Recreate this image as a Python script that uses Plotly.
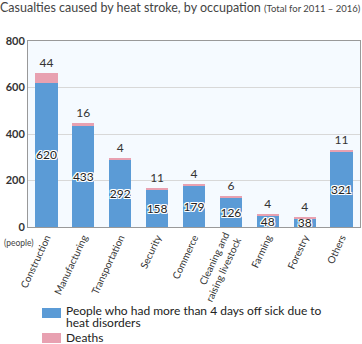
import plotly.graph_objects as go

categories = ["Construction", "Manufacturing", "Transportation", "Security", "Commerce",
              "Cleaning and<br>raising livestock", "Farming", "Forestry", "Others"]
sick_leave = [620, 433, 292, 158, 179, 126, 48, 38, 321]
deaths = [44, 16, 4, 11, 4, 6, 4, 4, 11]
y_ticks = [0, 200, 400, 600, 800]
legend_lines_sick = ["People who had more than 4 days off sick due to", "heat disorders"]
legend_deaths = "Deaths"

FONT = "Lato, 'Open Sans', sans-serif"
BLUE = "#5b9bd6"
PINK = "#e8a1b1"
outline = "-1px -1px 0 #fff, 1px -1px 0 #fff, -1px 1px 0 #fff, 1px 1px 0 #fff, 0 1px 0 #fff, 0 -1px 0 #fff, 1px 0 0 #fff, -1px 0 0 #fff"

fig = go.Figure()
fig.add_trace(go.Bar(
    x=categories, y=sick_leave,
    name=" ".join(legend_lines_sick),
    marker=dict(color=BLUE, line=dict(width=0)),
    text=[str(v) for v in sick_leave],
    textposition="inside", insidetextanchor="middle", textangle=0,
    constraintext="none",
    insidetextfont=dict(family=FONT, size=12, color="#222", shadow=outline),
    hoverinfo="skip",
))
fig.add_trace(go.Bar(
    x=categories, y=deaths,
    name=legend_deaths,
    marker=dict(color=PINK, line=dict(width=0)),
    text=[str(v) for v in deaths],
    textposition="outside", textangle=0,
    constraintext="none",
    outsidetextfont=dict(family=FONT, size=12, color="#333"),
    cliponaxis=False,
    hoverinfo="skip",
))

fig.update_layout(
    barmode="stack",
    bargap=0.4,
    width=362, height=344,
    margin=dict(l=28, r=2, t=41, b=117, autoexpand=False),
    paper_bgcolor="white",
    plot_bgcolor="#f5faff",
    font=dict(family=FONT, color="#333"),
    title=dict(
        text="Casualties caused by heat stroke, by occupation <span style='font-size:9.5px'>(Total for 2011 – 2016)</span>",
        x=0, xanchor="left", xref="container", y=0.978, yanchor="middle",
        font=dict(family=FONT, size=12.5, color="#444"),
        pad=dict(l=0),
    ),
    showlegend=False,
    xaxis=dict(
        tickangle=-65, tickfont=dict(family=FONT, size=10, color="#333"),
        showline=True, linecolor="#999", linewidth=1, mirror=True,
        ticks="", showgrid=False, automargin=False,
    ),
    yaxis=dict(
        range=[0, 800], tickvals=y_ticks,
        tickfont=dict(family=FONT, size=11, color="#333", weight="bold"),
        showline=True, linecolor="#999", linewidth=1, mirror=True,
        gridcolor="#d8d8d8", gridwidth=1, zeroline=False, ticks="",
        automargin=False,
    ),
)

# helper: pixel -> paper coordinates (plot area x 28..360, y 41..227)
def px(xp):
    return (xp - 28) / 332

def py(yp):
    return (227 - yp) / 186

fig.add_annotation(text="(people)", xref="paper", yref="paper", x=px(2), xanchor="left",
                   y=py(243), yanchor="middle", showarrow=False,
                   font=dict(family=FONT, size=8.5, color="#444"))

# manual legend (swatches + labels)
fig.add_shape(type="rect", xref="paper", yref="paper", x0=px(42), x1=px(61),
              y0=py(318), y1=py(308), fillcolor=BLUE, line=dict(width=0))
fig.add_shape(type="rect", xref="paper", yref="paper", x0=px(42), x1=px(61),
              y0=py(343), y1=py(333), fillcolor=PINK, line=dict(width=0))
for line_text, ypix in zip(legend_lines_sick, [310, 322.5]):
    fig.add_annotation(text=line_text, xref="paper", yref="paper", x=px(64), xanchor="left",
                       y=py(ypix), yanchor="middle", showarrow=False,
                       font=dict(family=FONT, size=12, color="#222"))
fig.add_annotation(text=legend_deaths, xref="paper", yref="paper", x=px(64), xanchor="left",
                   y=py(337.5), yanchor="middle", showarrow=False,
                   font=dict(family=FONT, size=12, color="#222"))

fig.write_html("out.html")
